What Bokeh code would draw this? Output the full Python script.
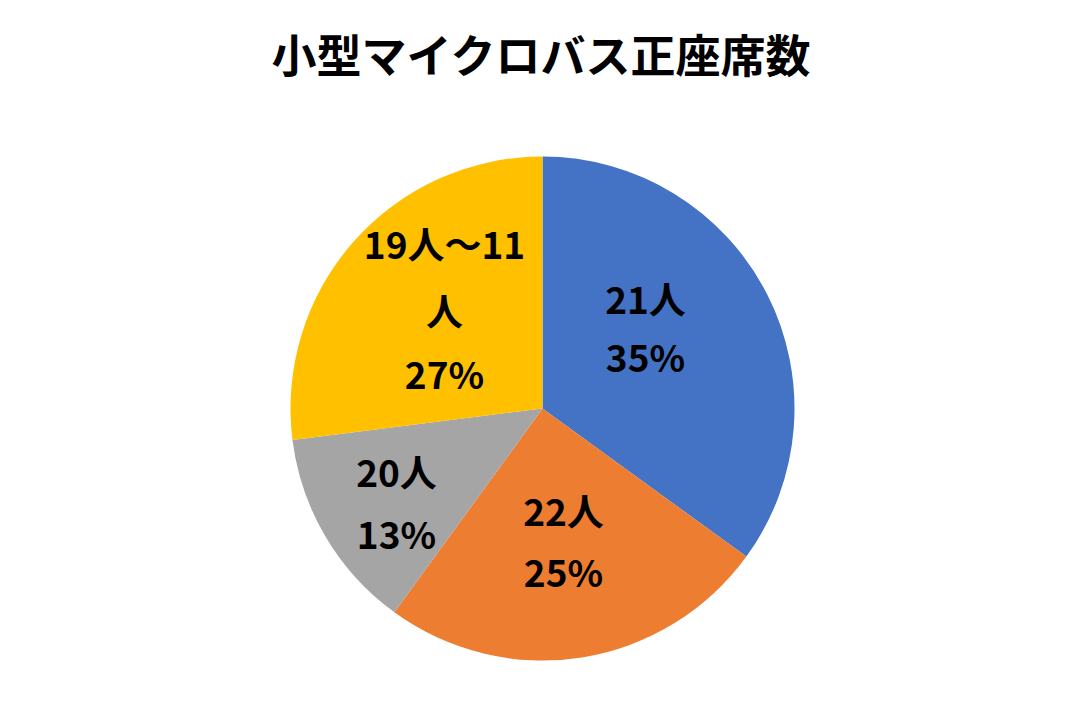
import math
from bokeh.plotting import figure
from bokeh.models import Range1d, ColumnDataSource
from bokeh.core.properties import value
from bokeh.embed import file_html
from bokeh.resources import INLINE

title_text = "小型マイクロバス正座席数"
categories = ["21人", "22人", "20人", "19人～11人"]
shares = [35, 25, 13, 27]
colors = ["#4472C4", "#ED7D31", "#A5A5A5", "#FFC000"]
# label lines as wrapped in the original
label_lines = [["21人", "35%"], ["22人", "25%"], ["20人", "13%"], ["19人～11", "人", "27%"]]

W, H = 1067, 707
FONT = "Noto Sans CJK JP"

def sy(py):
    # screen pixel y -> data y
    return H - py

p = figure(width=W, height=H, output_backend="svg", toolbar_location=None,
           x_range=Range1d(0, W), y_range=Range1d(0, H),
           min_border=0, outline_line_color=None)
p.axis.visible = False
p.grid.visible = False
p.background_fill_color = "white"
p.border_fill_color = "white"

cx, cy, r = 542, sy(408), 252
total = sum(shares)
starts, ends = [], []
acc = 0
for s in shares:
    starts.append(math.pi / 2 - 2 * math.pi * acc / total)
    acc += s
    ends.append(math.pi / 2 - 2 * math.pi * acc / total)

src = ColumnDataSource(dict(x=[cx] * 4, y=[cy] * 4, start=starts, end=ends,
                            color=colors, cat=categories, share=shares))
p.wedge(x="x", y="y", radius=r, start_angle="start", end_angle="end",
        direction="clock", fill_color="color", line_color=None, source=src)

# label layout (screen px): center x and line y positions
label_x = [645, 563, 396, 444]
label_y = [[297, 355], [509, 570], [470, 532], [242, 309, 372]]
tx, ty, tt = [], [], []
for lines, lx, lys in zip(label_lines, label_x, label_y):
    for t, ly in zip(lines, lys):
        tx.append(lx)
        ty.append(sy(ly))
        tt.append(t)
p.text(x=tx, y=ty, text=tt, text_align="center", text_baseline="middle",
       text_font=value(FONT), text_font_style="bold", text_font_size="37px",
       text_color="black")

p.text(x=[541], y=[sy(53)], text=[title_text], text_align="center",
       text_baseline="middle", text_font=value(FONT), text_font_style="bold",
       text_font_size="45px", text_color="black")

open("out.html", "w").write(file_html(p, INLINE))
